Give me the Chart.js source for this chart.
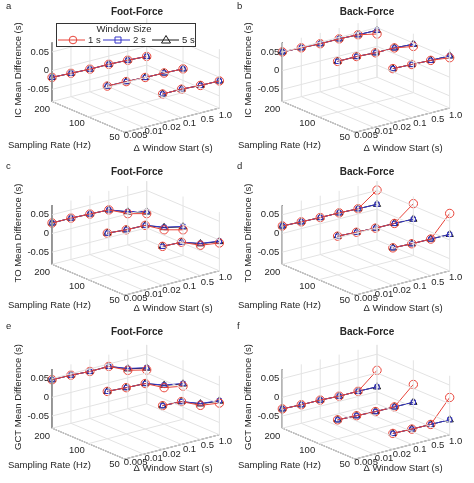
<!DOCTYPE html>
<html><head><meta charset="utf-8">
<script src="https://cdn.jsdelivr.net/npm/chart.js@4/dist/chart.umd.min.js"></script>
<style>body{margin:0;background:#fff;width:474px;height:483px;position:relative;overflow:hidden}
canvas{position:absolute}</style></head><body>
<script>
const windowStarts = ['0.005','0.01','0.02','0.1','0.5','1.0'];
const samplingRates = ['200','100','50'];
const zTicks = [-0.05, 0, 0.05];
const zTickLabels = ['-0.05','0','0.05'];
const seriesNames = ['1 s','2 s','5 s'];
// values per sampling rate (rows 200,100,50) x window start
const icFoot1 = [[-0.018,-0.020,-0.022,-0.022,-0.024,-0.027],[null,-0.013,-0.014,-0.016,-0.017,-0.019],[null,null,-0.006,-0.006,-0.009,-0.010]];
const icFoot2 = icFoot1;
const icFoot5 = icFoot1;
const icBack1 = [[0.050,0.048,0.046,0.046,0.044,0.033],[null,0.053,0.053,0.050,0.050,0.041],[null,null,0.062,0.060,0.058,0.052]];
const icBack2 = [[0.050,0.048,0.046,0.046,0.044,0.043],[null,0.053,0.053,0.050,0.050,0.047],[null,null,0.062,0.060,0.058,0.057]];
const icBack5 = icBack2;
const toFoot1 = [[0.028,0.028,0.026,0.024,0.001,-0.012],[null,0.029,0.025,0.024,-0.001,-0.014],[null,null,0.022,0.020,-0.001,-0.008]];
const toFoot2 = [[0.028,0.028,0.026,0.024,0.0065,-0.0065],[null,0.029,0.025,0.024,0.006,-0.005],[null,null,0.022,0.020,0.004,-0.003]];
const toFoot5 = [[0.028,0.028,0.026,0.024,0.0055,-0.0075],[null,0.029,0.025,0.024,0.005,-0.006],[null,null,0.022,0.020,0.003,-0.004]];
const toBack1 = [[0.020,0.018,0.0165,0.016,0.014,0.051],[null,0.021,0.0185,0.0165,0.016,0.056],[null,null,0.018,0.016,0.0155,0.071]];
const toBack2 = [[0.020,0.018,0.0165,0.016,0.014,0.013],[null,0.021,0.0185,0.0165,0.016,0.0145],[null,null,0.018,0.016,0.0155,0.015]];
const toBack5 = toBack2;
const gctFoot1 = [[0.047,0.046,0.043,0.0435,0.020,0.008],[null,0.044,0.041,0.039,0.015,0.006],[null,null,0.034,0.032,0.009,0.002]];
const gctFoot2 = [[0.047,0.046,0.043,0.0435,0.025,0.014],[null,0.044,0.041,0.039,0.022,0.013],[null,null,0.034,0.032,0.014,0.0085]];
const gctFoot5 = [[0.047,0.046,0.043,0.0435,0.024,0.013],[null,0.044,0.041,0.039,0.021,0.012],[null,null,0.034,0.032,0.013,0.0075]];
const gctBack1 = [[-0.031,-0.033,-0.0335,-0.036,-0.036,0.007],[null,-0.032,-0.034,-0.036,-0.0365,0.0105],[null,null,-0.040,-0.0415,-0.042,0.017]];
const gctBack2 = [[-0.031,-0.033,-0.0335,-0.036,-0.036,-0.037],[null,-0.032,-0.034,-0.036,-0.0365,-0.037],[null,null,-0.040,-0.0415,-0.042,-0.0425]];
const gctBack5 = gctBack2;

const panels = [
 {letter:'a',title:'Foot-Force',zlabel:'IC Mean Difference (s)',s:[icFoot1,icFoot2,icFoot5],left:0,top:0,h:160,ox:49,zy:70,legend:true},
 {letter:'b',title:'Back-Force',zlabel:'IC Mean Difference (s)',s:[icBack1,icBack2,icBack5],left:237,top:0,h:160,ox:42,zy:70},
 {letter:'c',title:'Foot-Force',zlabel:'TO Mean Difference (s)',s:[toFoot1,toFoot2,toFoot5],left:0,top:160,h:160,ox:49,zy:73},
 {letter:'d',title:'Back-Force',zlabel:'TO Mean Difference (s)',s:[toBack1,toBack2,toBack5],left:237,top:160,h:160,ox:42,zy:73},
 {letter:'e',title:'Foot-Force',zlabel:'GCT Mean Difference (s)',s:[gctFoot1,gctFoot2,gctFoot5],left:0,top:320,h:163,ox:49,zy:77},
 {letter:'f',title:'Back-Force',zlabel:'GCT Mean Difference (s)',s:[gctBack1,gctBack2,gctBack5],left:237,top:320,h:163,ox:42,zy:77},
];
const ZMIN=-0.0825, ZMAX=0.075;
const colors=['#e8443a','#3535c8','#1a1a1a'];
const styles=['circle','rect','triangle'];
const radii=[4.2,3,4.2];
const F='"Liberation Sans", Arial, sans-serif';

panels.forEach(p=>{
  const proj=(u,v,z)=>({x:p.ox+99*u+76*v, y:p.zy-26*u+33*v-400*z});
  const uOf=i=>i/(windowStarts.length-1);
  const vOf=j=>j/(samplingRates.length-1);
  const grid=[];
  const seg=(a,b)=>{grid.push(a,b,{x:b.x,y:null});};
  windowStarts.forEach((w,i)=>{const u=uOf(i);seg(proj(u,0,ZMIN),proj(u,1,ZMIN));seg(proj(u,0,ZMIN),proj(u,0,ZMAX));});
  samplingRates.forEach((s,j)=>{const v=vOf(j);seg(proj(0,v,ZMIN),proj(1,v,ZMIN));seg(proj(1,v,ZMIN),proj(1,v,ZMAX));});
  zTicks.forEach(z=>{seg(proj(0,0,z),proj(1,0,z));seg(proj(1,0,z),proj(1,1,z));});
  const axes=[proj(0,0,ZMAX),proj(0,0,ZMIN),proj(0,1,ZMIN),proj(1,1,ZMIN)];
  const datasets=[{data:grid,borderColor:'#e3e3e3',borderWidth:1,pointRadius:0,showLine:true,spanGaps:false},
                  {data:axes,borderColor:'#333',borderWidth:1,pointRadius:0,showLine:true}];
  p.s.forEach((ser,k)=>{
    ser.forEach((row,j)=>{
      const pts=[];row.forEach((val,i)=>{if(val!==null)pts.push(proj(uOf(i),vOf(j),val));});
      datasets.push({data:pts,borderColor:colors[k],borderWidth:1,showLine:true,pointStyle:styles[k],pointRadius:radii[k],
        pointBorderColor:colors[k],pointBackgroundColor:'rgba(255,255,255,0)',pointBorderWidth:1});
    });
  });
  const cv=document.createElement('canvas');
  cv.width=237;cv.height=p.h;cv.style.left=p.left+'px';cv.style.top=p.top+'px';
  document.body.appendChild(cv);
  const textPlugin={id:'txt',afterDraw(ch){
    const c=ch.ctx, X=ch.scales.x, Y=ch.scales.y;
    const P=(pt)=>({x:X.getPixelForValue(pt.x),y:Y.getPixelForValue(pt.y)});
    c.save();c.fillStyle='#262626';
    c.font='9.5px '+F;c.textAlign='right';c.textBaseline='middle';
    zTicks.forEach((z,k)=>{const q=P(proj(0,0,z));c.fillText(zTickLabels[k],q.x-3,q.y);});
    samplingRates.forEach((s,j)=>{const q=P(proj(0,vOf(j),ZMIN));c.fillText(s,q.x-2-3*vOf(j),q.y+8-3*vOf(j));});
    c.textAlign='center';
    windowStarts.forEach((w,i)=>{const q=P(proj(uOf(i),1,ZMIN));c.fillText(w,q.x+11-5*uOf(i),q.y+3+4*uOf(i));});
    c.font='9.5px '+F;
    c.textAlign='left';c.fillText('Sampling Rate (Hz)',p.ox-41,145);
    c.textAlign='center';c.fillText('\u0394 Window Start (s)',p.ox+124,148);
    c.save();c.translate(p.ox-31,p.zy);c.rotate(-Math.PI/2);c.fillText(p.zlabel,0,0);c.restore();
    c.font='bold 10px '+F;c.fillText(p.title,p.ox+88,12);
    c.font='9.5px '+F;c.textAlign='left';c.fillText(p.letter,p.left?0:6,6);
    if(p.legend){
      c.fillStyle='#fff';c.fillRect(56,23,139,23);c.strokeStyle='#333';c.lineWidth=1;c.strokeRect(56.5,23.5,139,23);
      c.fillStyle='#262626';c.textAlign='center';c.font='9.5px '+F;c.fillText('Window Size',124,29.5);
      const xs=[58,103,152];
      seriesNames.forEach((n,k)=>{const x=xs[k],y=40;c.strokeStyle=colors[k];c.beginPath();c.moveTo(x,y);c.lineTo(x+27,y);c.stroke();
        c.beginPath();
        if(k===0){c.arc(x+15,y,3.8,0,2*Math.PI);}else if(k===1){c.rect(x+12,y-3,6,6);}else{c.moveTo(x+14,y-4.5);c.lineTo(x+18.5,y+3);c.lineTo(x+9.5,y+3);c.closePath();}
        c.stroke();c.fillStyle='#262626';c.textAlign='left';c.fillText(n,x+30,y);});
    }
    c.restore();
  }};
  new Chart(cv,{type:'scatter',data:{datasets},plugins:[textPlugin],
    options:{responsive:false,animation:false,events:[],layout:{padding:0},
      plugins:{legend:{display:false},tooltip:{enabled:false}},
      scales:{x:{type:'linear',min:0,max:237,display:false},y:{type:'linear',min:0,max:p.h,reverse:true,display:false}}}});
});
</script></body></html>
